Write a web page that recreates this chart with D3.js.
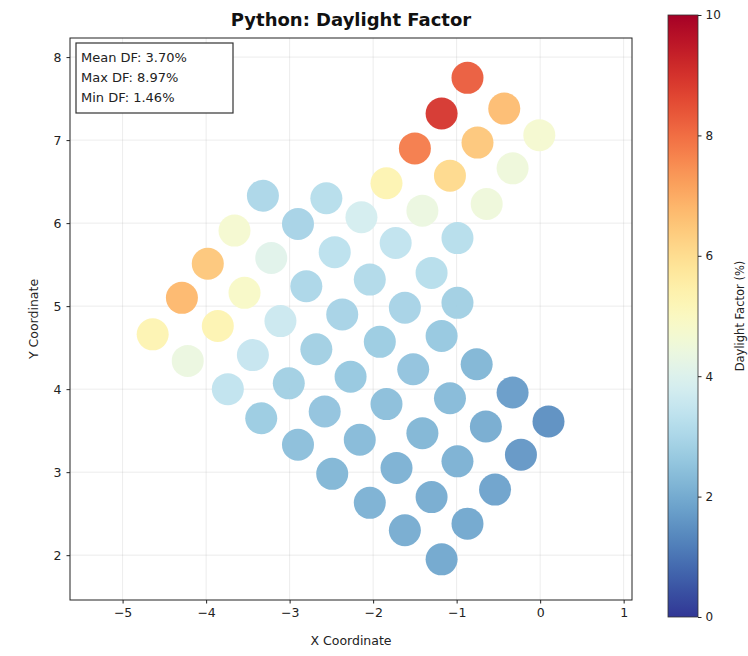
<!DOCTYPE html>
<html>
<head>
<meta charset="utf-8">
<script src="https://cdn.jsdelivr.net/npm/d3@7"></script>
<style>
html,body{margin:0;padding:0;background:#fff;}
text{font-family:"DejaVu Sans",sans-serif;}
</style>
</head>
<body>
<svg id="chart" width="748" height="656"></svg>
<script>
// ---- data ----
const xs = [-0.87,-1.18,-0.43,-1.50,-0.75,-0.01,-1.84,-1.08,-0.33,-1.41,-0.64,
  -3.32,-2.56,-2.90,-2.14,-3.66,-3.22,-2.46,-1.73,-0.99,
  -3.98,-2.80,-2.04,-1.30,-3.54,-4.29,-3.11,-2.37,-1.62,-0.99,
  -4.64,-3.86,-3.44,-2.68,-1.92,-1.18,-4.22,-3.74,-3.01,-2.27,-1.52,-0.76,
  -3.34,-2.58,-1.84,-1.08,-0.33,-2.90,-2.16,-1.41,-0.65,0.10,
  -2.49,-1.72,-0.99,-0.23,-2.04,-1.30,-0.54,-1.62,-0.87,-1.18];
const ys = [7.75,7.32,7.38,6.90,6.97,7.06,6.48,6.57,6.66,6.15,6.23,
  6.33,6.30,5.99,6.07,5.91,5.58,5.65,5.76,5.82,
  5.51,5.24,5.32,5.40,5.16,5.10,4.82,4.90,4.98,5.04,
  4.66,4.76,4.41,4.48,4.57,4.64,4.34,4.00,4.07,4.15,4.24,4.30,
  3.65,3.73,3.82,3.89,3.96,3.33,3.39,3.47,3.55,3.61,
  2.98,3.05,3.13,3.21,2.63,2.70,2.79,2.30,2.38,1.95];
const dfValues = [8.3,8.97,6.7,7.8,6.5,4.7,5.3,6.1,4.5,4.4,4.5,
  3.0,3.2,2.9,3.8,4.7,4.1,3.3,3.4,3.2,
  6.5,3.0,3.1,3.2,4.9,6.8,3.6,2.9,2.9,2.8,
  5.3,5.3,3.5,2.8,2.7,2.6,4.4,3.4,2.8,2.6,2.5,2.2,
  2.7,2.5,2.4,2.3,1.7,2.4,2.3,2.2,2.0,1.46,
  2.2,2.1,2.1,1.6,2.1,2.0,1.8,2.0,1.9,1.9];
const xTicks = [-5,-4,-3,-2,-1,0,1];
const yTicks = [2,3,4,5,6,7,8];
const cbTicks = [0,2,4,6,8,10];
const statLines = ["Mean DF: 3.70%","Max DF: 8.97%","Min DF: 1.46%"];
const titleText = "Python: Daylight Factor";
const xLabel = "X Coordinate", yLabel = "Y Coordinate", cbLabel = "Daylight Factor (%)";

// ---- layout ----
const svg = d3.select("#chart");
const L = 70, R = 632, T = 38, B = 600;
const x = d3.scaleLinear().domain([-5.63, 1.10]).range([L, R]);
const y = d3.scaleLinear().domain([1.46, 8.23]).range([B, T]);
const color = v => d3.interpolateRdYlBu(1 - v / 10);

// grid
const g = svg.append("g");
g.selectAll(".gx").data(xTicks).join("line")
  .attr("x1", d => x(d)).attr("x2", d => x(d)).attr("y1", T).attr("y2", B)
  .attr("stroke", "#b0b0b0").attr("stroke-opacity", 0.3).attr("stroke-width", 0.8);
g.selectAll(".gy").data(yTicks).join("line")
  .attr("y1", d => y(d)).attr("y2", d => y(d)).attr("x1", L).attr("x2", R)
  .attr("stroke", "#b0b0b0").attr("stroke-opacity", 0.3).attr("stroke-width", 0.8);

// points
const pts = xs.map((v, i) => ({x: v, y: ys[i], v: dfValues[i]}));
svg.append("g").selectAll("circle").data(pts).join("circle")
  .attr("cx", d => x(d.x)).attr("cy", d => y(d.y)).attr("r", 16)
  .attr("fill", d => color(d.v)).attr("fill-opacity", 0.95);

// axes
const fmt = d3.format("d");
const xAxis = d3.axisBottom(x).tickValues(xTicks).tickSize(3.5).tickPadding(5).tickFormat(fmt);
const yAxis = d3.axisLeft(y).tickValues(yTicks).tickSize(3.5).tickPadding(5).tickFormat(fmt);
const gx = svg.append("g").attr("transform", `translate(0,${B})`).call(xAxis);
const gy = svg.append("g").attr("transform", `translate(${L},0)`).call(yAxis);
[gx, gy].forEach(a => {
  a.select(".domain").remove();
  a.selectAll("text").attr("font-size", 12.5).attr("fill", "#222").attr("font-family", "DejaVu Sans");
  a.selectAll("line").attr("stroke", "#222");
});
svg.append("rect").attr("x", L).attr("y", T).attr("width", R - L).attr("height", B - T)
  .attr("fill", "none").attr("stroke", "#222").attr("stroke-width", 1);

// title & labels
svg.append("text").attr("x", (L + R) / 2).attr("y", 26).attr("text-anchor", "middle")
  .attr("font-size", 18).attr("font-weight", "bold").attr("fill", "#111").text(titleText);
svg.append("text").attr("x", (L + R) / 2).attr("y", 645).attr("text-anchor", "middle")
  .attr("font-size", 12.5).attr("fill", "#222").text(xLabel);
svg.append("text").attr("transform", `translate(38,${(T + B) / 2}) rotate(-90)`)
  .attr("text-anchor", "middle").attr("font-size", 12.5).attr("fill", "#222").text(yLabel);

// stats box
const box = svg.append("g");
box.append("rect").attr("x", 76).attr("y", 43).attr("width", 157).attr("height", 70)
  .attr("fill", "#fff").attr("stroke", "#333").attr("stroke-width", 1.2);
box.selectAll("text").data(statLines).join("text")
  .attr("x", 81).attr("y", (d, i) => 62 + i * 20)
  .attr("font-size", 13).attr("fill", "#222").text(d => d);

// colorbar
const cbX = 668, cbW = 30, cbT = 15, cbB = 617;
const cy = d3.scaleLinear().domain([0, 10]).range([cbB, cbT]);
const defs = svg.append("defs");
const grad = defs.append("linearGradient").attr("id", "cbg")
  .attr("x1", 0).attr("y1", 1).attr("x2", 0).attr("y2", 0);
d3.range(0, 1.0001, 0.02).forEach(t => {
  grad.append("stop").attr("offset", t).attr("stop-color", color(t * 10));
});
svg.append("rect").attr("x", cbX).attr("y", cbT).attr("width", cbW).attr("height", cbB - cbT)
  .attr("fill", "url(#cbg)").attr("stroke", "#333").attr("stroke-width", 0.8);
const cbAxis = d3.axisRight(cy).tickValues(cbTicks).tickSize(3.5).tickPadding(4).tickFormat(fmt);
const gcb = svg.append("g").attr("transform", `translate(${cbX + cbW},0)`).call(cbAxis);
gcb.select(".domain").remove();
gcb.selectAll("text").attr("font-size", 12).attr("fill", "#222").attr("font-family", "DejaVu Sans");
gcb.selectAll("line").attr("stroke", "#222");
svg.append("text").attr("transform", `translate(744,${(cbT + cbB) / 2}) rotate(-90)`)
  .attr("text-anchor", "middle").attr("font-size", 11.5).attr("fill", "#222").text(cbLabel);
</script>
</body>
</html>
